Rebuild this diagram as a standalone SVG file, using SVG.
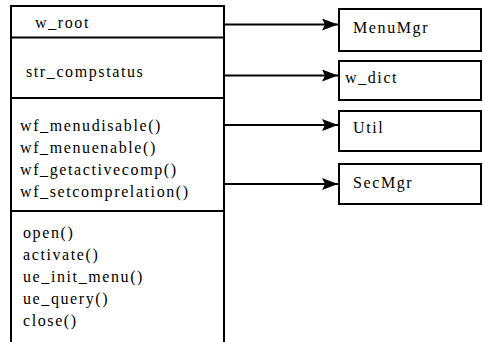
<svg xmlns="http://www.w3.org/2000/svg" width="483" height="342" viewBox="0 0 483 342">
<defs>
<style>
.box{fill:#fff;stroke:#000;stroke-width:2}
.ln{stroke:#000;stroke-width:2;fill:none}
text{font-family:"Liberation Serif","Times New Roman",serif;font-size:16px;letter-spacing:1.6px;fill:#000}
</style>
<marker id="ah" viewBox="0 0 16 12" refX="16" refY="6" markerWidth="16" markerHeight="12" markerUnits="userSpaceOnUse" orient="auto">
<path d="M0,0 L16,6 L0,12 L3,6 Z" fill="#000"/>
</marker>
</defs>
<rect width="483" height="342" fill="#fff"/>
<g id="main">
<path class="ln" d="M11,342 V6 H224 V342"/>
<line class="ln" x1="11" y1="37.5" x2="224" y2="37.5"/>
<line class="ln" x1="11" y1="98" x2="224" y2="98"/>
<line class="ln" x1="11" y1="211" x2="224" y2="211"/>
<text x="35" y="28">w_root</text>
<text x="26" y="77">str_compstatus</text>
<text x="20" y="131">wf_menudisable()</text>
<text x="20" y="153">wf_menuenable()</text>
<text x="20" y="175">wf_getactivecomp()</text>
<text x="20" y="197">wf_setcomprelation()</text>
<text x="23" y="238">open()</text>
<text x="23" y="260">activate()</text>
<text x="23" y="282">ue_init_menu()</text>
<text x="23" y="304">ue_query()</text>
<text x="23" y="326">close()</text>
</g>
<g id="menumgr">
<rect class="box" x="339" y="9" width="142" height="42"/>
<text x="353" y="33">MenuMgr</text>
</g>
<g id="wdict">
<rect class="box" x="339" y="61" width="142" height="39"/>
<text x="345" y="83">w_dict</text>
</g>
<g id="util">
<rect class="box" x="339" y="111" width="142" height="40"/>
<text x="353" y="133">Util</text>
</g>
<g id="secmgr">
<rect class="box" x="339" y="164" width="142" height="40"/>
<text x="353" y="188">SecMgr</text>
</g>
<g id="connectors">
<line class="ln" x1="224" y1="24.5" x2="338" y2="24.5" marker-end="url(#ah)"/>
<line class="ln" x1="224" y1="75.5" x2="338" y2="75.5" marker-end="url(#ah)"/>
<line class="ln" x1="224" y1="125" x2="338" y2="125" marker-end="url(#ah)"/>
<line class="ln" x1="224" y1="184" x2="338" y2="184" marker-end="url(#ah)"/>
</g>
</svg>
